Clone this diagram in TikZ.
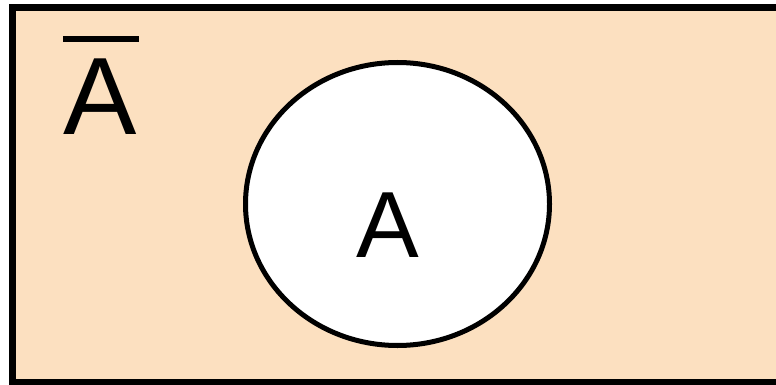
\documentclass[tikz,border=0pt]{standalone}
\usepackage{fontspec}
\setmainfont{Liberation Sans}
\definecolor{peach}{RGB}{252,224,192}
\begin{document}
\begin{tikzpicture}[x=1pt,y=-1pt,
  frame/.style={line width=7pt},
  setA/.style={draw=black,fill=white,line width=5pt},
  lbl/.style={inner sep=0pt,anchor=base,text=black}]
\useasboundingbox (0,0) rectangle (776,385);
\fill[white] (0,0) rectangle (776,385);
\fill[peach] (12,7) rectangle (776,382);
\draw[frame] (776,7.5) -- (12,7.5) -- (12,382) -- (776,382);
\draw[setA] (397.5,204) ellipse [x radius=152, y radius=141.5];
\node[lbl,font=\fontsize{94}{94}\selectfont] (a) at (387.5,257) {A};
\node[lbl,anchor=base west,font=\fontsize{110}{110}\selectfont] (ac) at (63,135) {A};
\coordinate (o1) at (63,39);
\coordinate (o2) at (139,39);
\draw[line width=6pt] (o1) -- (o2);
\end{tikzpicture}
\end{document}
